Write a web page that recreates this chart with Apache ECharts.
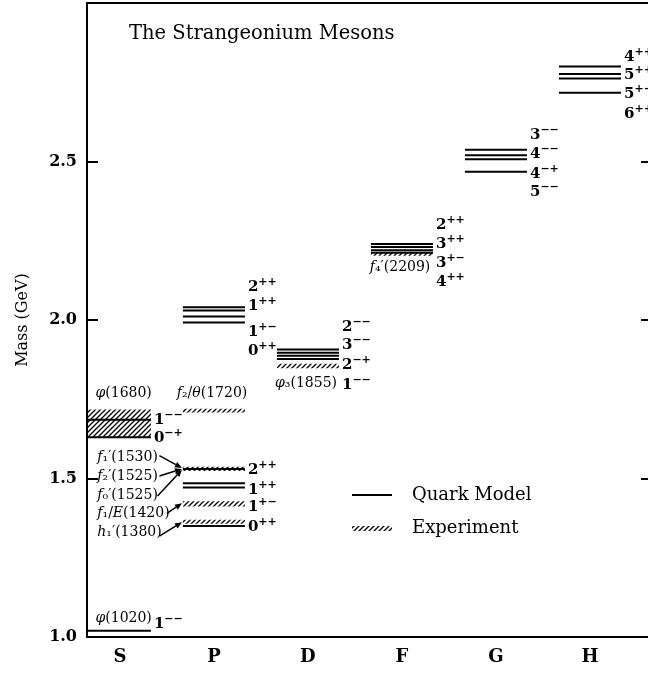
<!DOCTYPE html>
<html>
<head>
<meta charset="utf-8">
<title>The Strangeonium Mesons</title>
<script src="https://cdn.jsdelivr.net/npm/echarts@6/dist/echarts.min.js"></script>
<style>
html, body { margin: 0; padding: 0; background: #fff; overflow: hidden; }
#chart { width: 656px; height: 673px; }
</style>
</head>
<body>
<div id="chart"></div>
<script>
// orbital excitation columns
var columns = ['S', 'P', 'D', 'F', 'G', 'H'];

// quark model levels (column index, mass in GeV)
var levelCol  = [0, 0, 0,  1, 1, 1, 1,  1, 1, 1, 1,  2, 2, 2, 2,  3, 3, 3, 3,  4, 4, 4, 4,  5, 5, 5, 5];
var levelMass = [1.02, 1.685, 1.63,
                 1.53, 1.485, 1.472, 1.35,
                 2.04, 2.03, 2.011, 1.992,
                 1.907, 1.897, 1.887, 1.877,
                 2.24, 2.23, 2.22, 2.212,
                 2.537, 2.52, 2.507, 2.468,
                 2.80, 2.776, 2.762, 2.717];

// experimental states (hatched), low / high edge of band
var expCol  = [0, 1, 1, 1, 1, 2, 3];
var expLow  = [1.632, 1.708, 1.524, 1.412, 1.357, 1.848, 2.203];
var expHigh = [1.718, 1.72, 1.537, 1.428, 1.37, 1.862, 2.213];

// J^PC labels to the right of each column: J and PC
var jpcCol = [0, 0, 0,  1, 1, 1, 1,  1, 1, 1, 1,  2, 2, 2, 2,  3, 3, 3, 3,  4, 4, 4, 4,  5, 5, 5, 5];
var jpcJ   = ['1', '0', '1',
              '2', '1', '1', '0',
              '2', '1', '1', '0',
              '2', '3', '2', '1',
              '2', '3', '3', '4',
              '3', '4', '4', '5',
              '4', '5', '5', '6'];
var jpcPC  = ['−−', '−+', '−−',
              '++', '++', '+−', '++',
              '++', '++', '+−', '++',
              '−−', '−−', '−+', '−−',
              '++', '++', '+−', '++',
              '−−', '−−', '−+', '−−',
              '++', '++', '+−', '++'];
var jpcAt  = [1.69, 1.632, 1.045,
              1.532, 1.469, 1.413, 1.35,
              2.107, 2.047, 1.968, 1.907,
              1.983, 1.926, 1.863, 1.80,
              2.304, 2.244, 2.183, 2.124,
              2.587, 2.528, 2.465, 2.408,
              2.833, 2.776, 2.717, 2.654];

// names of the experimental states
var stateName  = ['{i|φ}(1020)', '{i|φ}(1680)', '{i|f}₂/{i|θ}(1720)', '{i|φ}₃(1855)', '{i|f}₄′(2209)',
                  '{i|f}₁′(1530)', '{i|f}₂′(1525)', '{i|f}₀′(1525)', '{i|f}₁/{i|E}(1420)', '{i|h}₁′(1380)'];
var stateX     = [-0.26, -0.26, 0.98, 1.98, 2.98, -0.24, -0.24, -0.24, -0.24, -0.24];
var stateAt    = [1.058, 1.768, 1.768, 1.80, 2.165, 1.567, 1.508, 1.447, 1.39, 1.331];
var stateAlign = ['left', 'left', 'center', 'center', 'center', 'left', 'left', 'left', 'left', 'left'];

// arrows from the names to the P-wave levels
var arrowFromX = [0.42, 0.42, 0.40, 0.50, 0.42];
var arrowFromM = [1.572, 1.508, 1.445, 1.39, 1.318];
var arrowToX   = [0.66, 0.66, 0.66, 0.66, 0.66];
var arrowToM   = [1.533, 1.530, 1.527, 1.422, 1.362];

var FONT = '"DejaVu Serif", "Liberation Serif", serif';
var HALF = 0.33;
var XMIN = -0.35;

// hatch pattern for experiment
var hatch = document.createElement('canvas');
hatch.width = 5; hatch.height = 5;
(function () {
    var g = hatch.getContext('2d');
    g.strokeStyle = '#000';
    g.lineWidth = 1.3;
    g.beginPath();
    g.moveTo(0, 5); g.lineTo(5, 0);
    g.moveTo(-1, 1); g.lineTo(1, -1);
    g.moveTo(4, 6); g.lineTo(6, 4);
    g.stroke();
})();

function leftEdge(c) { return c === 0 ? XMIN : c - HALF; }

var levelData = levelCol.map(function (c, i) { return [c, levelMass[i]]; });
var expData = expCol.map(function (c, i) { return [c, expLow[i], expHigh[i]]; });
var jpcData = jpcCol.map(function (c, i) { return [c, jpcAt[i]]; });
var nameData = stateName.map(function (t, i) { return [stateX[i], stateAt[i]]; });
var arrowData = arrowFromX.map(function (x, i) { return [x, arrowFromM[i], arrowToX[i], arrowToM[i]]; });
var colData = columns.map(function (c, i) { return [i, 1.0]; });

var myChart = echarts.init(document.getElementById('chart'));
myChart.setOption({
    animation: false,
    backgroundColor: '#fff',
    title: {
        text: 'The Strangeonium Mesons',
        left: 124, top: 19,
        textStyle: { fontFamily: FONT, fontSize: 19.5, fontWeight: 'normal', color: '#000' }
    },
    grid: {
        left: 87, top: 3, right: 4, bottom: 36,
        show: true, borderColor: '#000', borderWidth: 2
    },
    xAxis: {
        type: 'value', min: XMIN, max: 5.66,
        axisLine: { show: false }, axisTick: { show: false },
        axisLabel: { show: false }, splitLine: { show: false }
    },
    yAxis: [{
        type: 'value', min: 1.0, max: 3.0, interval: 0.5,
        name: 'Mass (GeV)', nameLocation: 'middle', nameGap: 56,
        nameTextStyle: { fontFamily: FONT, fontSize: 16, color: '#000' },
        axisLine: { show: true, onZero: false, lineStyle: { color: '#000', width: 2 } },
        axisTick: { show: true, inside: true, length: 11, lineStyle: { color: '#000', width: 2 } },
        axisLabel: {
            margin: 10, fontFamily: FONT, fontSize: 16, fontWeight: 'bold', color: '#000',
            formatter: function (v) { return v >= 3 ? '' : v.toFixed(1); }
        },
        splitLine: { show: false }
    }, {
        type: 'value', min: 1.0, max: 3.0, interval: 0.5, position: 'right',
        axisLine: { show: true, onZero: false, lineStyle: { color: '#000', width: 2 } },
        axisTick: { show: true, inside: true, length: 11, lineStyle: { color: '#000', width: 2 } },
        axisLabel: { show: false }, splitLine: { show: false }
    }],
    graphic: [
        { type: 'line', shape: { x1: 352, y1: 495, x2: 392, y2: 495 }, style: { stroke: '#000', lineWidth: 2 } },
        { type: 'text', x: 412, y: 495, style: { text: 'Quark Model', font: '18px ' + FONT, fill: '#000', verticalAlign: 'middle' } },
        { type: 'rect', shape: { x: 352, y: 526, width: 40, height: 5 }, style: { fill: { image: hatch, repeat: 'repeat' } } },
        { type: 'text', x: 412, y: 528, style: { text: 'Experiment', font: '18px ' + FONT, fill: '#000', verticalAlign: 'middle' } }
    ],
    series: [{
        // experiment bands
        type: 'custom', clip: false, data: expData,
        renderItem: function (params, api) {
            var c = api.value(0);
            var a = api.coord([leftEdge(c), api.value(2)]);
            var b = api.coord([c + HALF, api.value(1)]);
            return {
                type: 'rect',
                shape: { x: a[0], y: a[1], width: b[0] - a[0], height: b[1] - a[1] },
                style: { fill: { image: hatch, repeat: 'repeat' }, stroke: null }
            };
        }
    }, {
        // quark model levels
        type: 'custom', clip: false, data: levelData,
        renderItem: function (params, api) {
            var c = api.value(0), m = api.value(1);
            var p0 = api.coord([leftEdge(c), m]);
            var p1 = api.coord([c + HALF, m]);
            return {
                type: 'line',
                shape: { x1: p0[0], y1: p0[1], x2: p1[0], y2: p1[1] },
                style: { stroke: '#000', lineWidth: 2 }
            };
        }
    }, {
        // J^PC labels
        type: 'custom', clip: false, data: jpcData,
        renderItem: function (params, api) {
            var i = params.dataIndex;
            var p = api.coord([api.value(0) + HALF, api.value(1)]);
            return {
                type: 'text', x: p[0] + 3, y: p[1],
                style: {
                    text: '{j|' + jpcJ[i] + '}{s|' + jpcPC[i] + '}',
                    fill: '#000', align: 'left', verticalAlign: 'middle',
                    rich: {
                        j: { fontFamily: FONT, fontSize: 15, fontWeight: 'bold', lineHeight: 18, verticalAlign: 'bottom' },
                        s: { fontFamily: FONT, fontSize: 11, fontWeight: 'bold', lineHeight: 18, verticalAlign: 'top' }
                    }
                }
            };
        }
    }, {
        // state names
        type: 'custom', clip: false, data: nameData,
        renderItem: function (params, api) {
            var p = api.coord([api.value(0), api.value(1)]);
            return {
                type: 'text', x: p[0], y: p[1],
                style: {
                    text: stateName[params.dataIndex], font: '14px ' + FONT, fill: '#000',
                    align: stateAlign[params.dataIndex], verticalAlign: 'middle',
                    rich: { i: { fontStyle: 'italic', fontFamily: FONT, fontSize: 14 } }
                }
            };
        }
    }, {
        // arrows
        type: 'custom', clip: false, data: arrowData,
        renderItem: function (params, api) {
            var a = api.coord([api.value(0), api.value(1)]);
            var b = api.coord([api.value(2), api.value(3)]);
            var ang = Math.atan2(b[1] - a[1], b[0] - a[0]);
            var L = 7, W = 3;
            var hx = b[0] - L * Math.cos(ang), hy = b[1] - L * Math.sin(ang);
            return {
                type: 'group',
                children: [{
                    type: 'line', shape: { x1: a[0], y1: a[1], x2: hx, y2: hy },
                    style: { stroke: '#000', lineWidth: 1.5 }
                }, {
                    type: 'polygon',
                    shape: { points: [[b[0], b[1]],
                        [hx + W * Math.sin(ang), hy - W * Math.cos(ang)],
                        [hx - W * Math.sin(ang), hy + W * Math.cos(ang)]] },
                    style: { fill: '#000' }
                }]
            };
        }
    }, {
        // column letters under the axis
        type: 'custom', clip: false, data: colData,
        renderItem: function (params, api) {
            var p = api.coord([api.value(0), api.value(1)]);
            return {
                type: 'text', x: p[0], y: p[1] + 20,
                style: {
                    text: columns[params.dataIndex], font: 'bold 18px ' + FONT, fill: '#000',
                    align: 'center', verticalAlign: 'middle'
                }
            };
        }
    }]
});
</script>
</body>
</html>
